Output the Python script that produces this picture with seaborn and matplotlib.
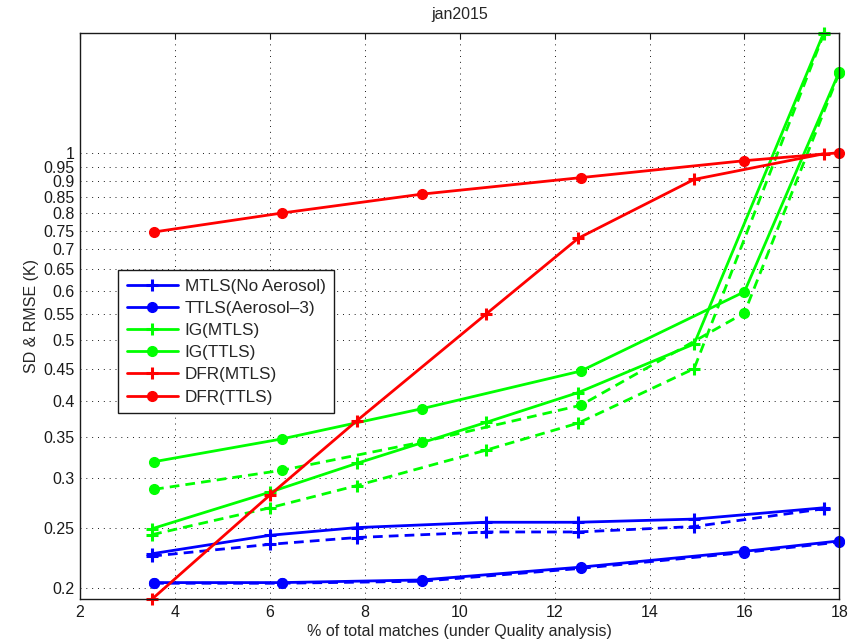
import matplotlib
matplotlib.use("Agg")
import matplotlib.pyplot as plt
import seaborn as sns
import pandas as pd
from matplotlib.ticker import FixedLocator, NullLocator, FixedFormatter

# x positions
x_mtls = [3.52, 6.0, 7.83, 10.56, 12.5, 14.94, 17.67]
x_ttls = [3.56, 6.25, 9.2, 12.55, 16.0, 18.0]

# series values
mtls_no_aer = [0.227, 0.243, 0.250, 0.255, 0.255, 0.258, 0.269]
mtls_no_aer_d = [0.225, 0.235, 0.241, 0.246, 0.246, 0.251, 0.268]
ttls_aer3 = [0.204, 0.204, 0.206, 0.216, 0.229, 0.238]
ttls_aer3_d = [0.2035, 0.2035, 0.205, 0.215, 0.228, 0.237]
ig_mtls = [0.249, 0.285, 0.317, 0.369, 0.412, 0.493, 1.557]
ig_mtls_d = [0.2436, 0.269, 0.292, 0.333, 0.368, 0.450, 1.55]
ig_ttls = [0.319, 0.347, 0.388, 0.446, 0.598, 1.35]
ig_ttls_d = [0.288, 0.309, 0.343, 0.393, 0.553, 1.345]
dfr_mtls = [0.192, 0.282, 0.371, 0.551, 0.729, 0.906, 0.996]
dfr_ttls = [0.746, 0.800, 0.858, 0.912, 0.971, 1.0]

labels = ["MTLS(No Aerosol)", "TTLS(Aerosol\u20133)", "IG(MTLS)", "IG(TTLS)",
          "DFR(MTLS)", "DFR(TTLS)"]

xticks = [2, 4, 6, 8, 10, 12, 14, 16, 18]
yticks = [0.2, 0.25, 0.3, 0.35, 0.4, 0.45, 0.5, 0.55, 0.6, 0.65, 0.7,
          0.75, 0.8, 0.85, 0.9, 0.95, 1.0]
ytick_labels = ["0.2", "0.25", "0.3", "0.35", "0.4", "0.45", "0.5", "0.55",
                "0.6", "0.65", "0.7", "0.75", "0.8", "0.85", "0.9", "0.95", "1"]

sns.set_theme(style="white")
plt.rcParams["font.family"] = ["Liberation Sans", "DejaVu Sans"]

fig = plt.figure(figsize=(8.57, 6.42), dpi=100)
ax = fig.add_axes([0.0934, 0.067, 0.886, 0.8816])

series = [
    (x_mtls, mtls_no_aer_d, "#0000ff", "+", "--", None),
    (x_ttls, ttls_aer3_d, "#0000ff", "o", "--", None),
    (x_mtls, ig_mtls_d, "#00ff00", "+", "--", None),
    (x_ttls, ig_ttls_d, "#00ff00", "o", "--", None),
    (x_mtls, mtls_no_aer, "#0000ff", "+", "-", labels[0]),
    (x_ttls, ttls_aer3, "#0000ff", "o", "-", labels[1]),
    (x_mtls, ig_mtls, "#00ff00", "+", "-", labels[2]),
    (x_ttls, ig_ttls, "#00ff00", "o", "-", labels[3]),
    (x_mtls, dfr_mtls, "#ff0000", "+", "-", labels[4]),
    (x_ttls, dfr_ttls, "#ff0000", "o", "-", labels[5]),
]

handles = {}
for xs, ys, col, mk, ls, lab in series:
    df = pd.DataFrame({"x": xs, "y": ys})
    sns.lineplot(data=df, x="x", y="y", ax=ax, color=col, marker=mk,
                 linestyle=ls, linewidth=2.0, markersize=8 if mk == "+" else 7,
                 markeredgewidth=2.2 if mk == "+" else 1, markeredgecolor=col,
                 estimator=None, sort=False, legend=False, clip_on=False)
    line = ax.lines[-1]
    if ls == "--":
        line.set_dashes((3.5, 2.2))
    if lab is not None:
        handles[lab] = line

ax.set_yscale("log")
ax.set_xlim(2, 18)
ax.set_ylim(0.192, 1.557)
ax.xaxis.set_major_locator(FixedLocator(xticks))
ax.yaxis.set_major_locator(FixedLocator(yticks))
ax.yaxis.set_major_formatter(FixedFormatter(ytick_labels))
ax.yaxis.set_minor_locator(NullLocator())
ax.xaxis.set_minor_locator(NullLocator())

ax.grid(True, which="major", color="k", linestyle=(0, (1, 5)), linewidth=0.7)
ax.tick_params(direction="in", top=True, right=True, length=4, width=0.8,
               labelsize=11.5, colors="k", pad=4)
for sp in ax.spines.values():
    sp.set_color("k")
    sp.set_linewidth(1.0)

ax.set_title("jan2015", fontsize=11.5, pad=10)
ax.set_xlabel("% of total matches (under Quality analysis)", fontsize=11.5, labelpad=3)
ax.set_ylabel("SD & RMSE (K)", fontsize=11.5, labelpad=3)

leg = ax.legend([handles[l] for l in labels], labels, loc="upper left",
                bbox_to_anchor=(0.05, 0.581), borderaxespad=0, fancybox=False,
                framealpha=1, edgecolor="k", fontsize=12.3, handlelength=3.0,
                handletextpad=0.4, labelspacing=0.42, borderpad=0.5, numpoints=1)
leg.get_frame().set_linewidth(1.0)

fig.savefig("out.png", dpi=100)
